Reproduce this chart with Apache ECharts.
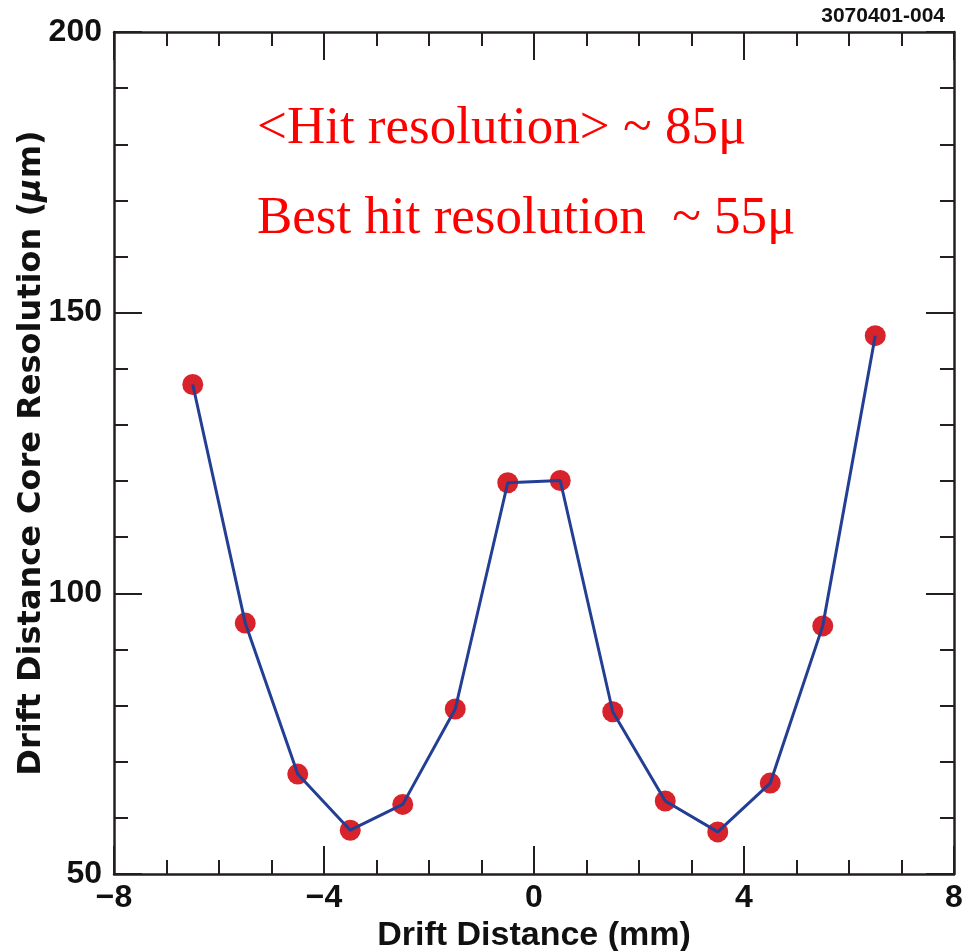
<!DOCTYPE html>
<html>
<head>
<meta charset="utf-8">
<script src="https://cdn.jsdelivr.net/npm/echarts@6/dist/echarts.min.js"></script>
<style>html,body{margin:0;padding:0;background:#fff}#c{width:965px;height:951px}</style>
</head>
<body>
<div id="c"></div>
<script>
var driftDistance = [-6.5, -5.5, -4.5, -3.5, -2.5, -1.5, -0.5, 0.5, 1.5, 2.5, 3.5, 4.5, 5.5, 6.5];
var coreResolution = [137.2, 94.7, 67.8, 57.8, 62.4, 79.4, 119.7, 120.1, 78.9, 63.0, 57.5, 66.2, 94.2, 145.9];
var xTicks = [-8, -4, 0, 4, 8];
var yTicks = [50, 100, 150, 200];
var annotations = ['<Hit resolution> ~ 85\u03bc', 'Best hit resolution  ~ 55\u03bc'];
var figureId = '3070401-004';

var pts = driftDistance.map(function (x, i) { return [x, coreResolution[i]]; });
var axisColor = '#231f20';

function axisCommon(extra) {
  var base = {
    axisLine: { show: true, onZero: false, lineStyle: { color: axisColor, width: 2.5 } },
    axisTick: { show: true, inside: true, length: 28, lineStyle: { color: axisColor, width: 2 } },
    minorTick: { show: true, length: 14, lineStyle: { color: axisColor, width: 2 } },
    splitLine: { show: false },
    minorSplitLine: { show: false }
  };
  for (var k in extra) base[k] = extra[k];
  return base;
}

var chart = echarts.init(document.getElementById('c'), null, { renderer: 'canvas' });
chart.setOption({
  animation: false,
  backgroundColor: '#ffffff',
  grid: { left: 114, top: 32, width: 840, height: 842, containLabel: false, outerBoundsMode: 'none' },
  xAxis: [
    axisCommon({
      type: 'value', position: 'bottom', min: xTicks[0], max: xTicks[xTicks.length - 1], interval: 4,
      minorTick: { show: true, splitNumber: 4, length: 14, lineStyle: { color: axisColor, width: 2 } },
      axisLabel: {
        show: true, margin: 8, color: '#111',
        fontFamily: '"Liberation Sans", Arial, sans-serif', fontWeight: 'bold', fontSize: 32,
        formatter: function (v) { return String(v).replace('-', '\u2212'); }
      },
      name: 'Drift Distance (mm)', nameLocation: 'middle', nameGap: 42,
      nameTextStyle: { color: '#111', fontFamily: '"Liberation Sans", Arial, sans-serif', fontWeight: 'bold', fontSize: 34 }
    }),
    axisCommon({
      type: 'value', position: 'top', min: xTicks[0], max: xTicks[xTicks.length - 1], interval: 4,
      minorTick: { show: true, splitNumber: 4, length: 14, lineStyle: { color: axisColor, width: 2 } },
      axisLabel: { show: false }
    })
  ],
  yAxis: [
    axisCommon({
      type: 'value', position: 'left', min: yTicks[0], max: yTicks[yTicks.length - 1], interval: 50,
      minorTick: { show: true, splitNumber: 5, length: 14, lineStyle: { color: axisColor, width: 2 } },
      axisLabel: {
        show: true, margin: 12, color: '#111',
        fontFamily: '"Liberation Sans", Arial, sans-serif', fontWeight: 'bold', fontSize: 32
      },
      name: '{a|Drift Distance Core Resolution (}{b|\u03bc}{a|m)}',
      nameLocation: 'middle', nameGap: 66, nameRotate: 90, nameMoveOverlap: false,
      nameTextStyle: {
        rich: {
          a: { color: '#111', fontFamily: '"DejaVu Sans", sans-serif', fontWeight: 'bold', fontSize: 32 },
          b: { color: '#111', fontFamily: '"DejaVu Sans", sans-serif', fontWeight: 'bold', fontStyle: 'italic', fontSize: 32 }
        }
      }
    }),
    axisCommon({
      type: 'value', position: 'right', min: yTicks[0], max: yTicks[yTicks.length - 1], interval: 50,
      minorTick: { show: true, splitNumber: 5, length: 14, lineStyle: { color: axisColor, width: 2 } },
      axisLabel: { show: false }
    })
  ],
  graphic: [
    { type: 'text', x: 257, y: 129, z: 10, style: { text: annotations[0], fill: '#ff0000', font: '53px "Liberation Serif", "Times New Roman", serif', textAlign: 'left', textVerticalAlign: 'middle' } },
    { type: 'text', x: 257, y: 219, z: 10, style: { text: annotations[1], fill: '#ff0000', font: '53px "Liberation Serif", "Times New Roman", serif', textAlign: 'left', textVerticalAlign: 'middle' } },
    { type: 'text', x: 945, y: 16, z: 10, style: { text: figureId, fill: '#111', font: 'bold 21px "Liberation Sans", Arial, sans-serif', textAlign: 'right', textVerticalAlign: 'middle' } }
  ],
  series: [
    {
      type: 'scatter', xAxisIndex: 0, yAxisIndex: 0, data: pts, z: 2,
      symbol: 'circle', symbolSize: 21,
      itemStyle: { color: '#d7232b', opacity: 1 }
    },
    {
      type: 'line', xAxisIndex: 0, yAxisIndex: 0, data: pts, z: 3,
      symbol: 'none', smooth: false,
      lineStyle: { color: '#233f94', width: 3 }
    }
  ]
});
</script>
</body>
</html>
